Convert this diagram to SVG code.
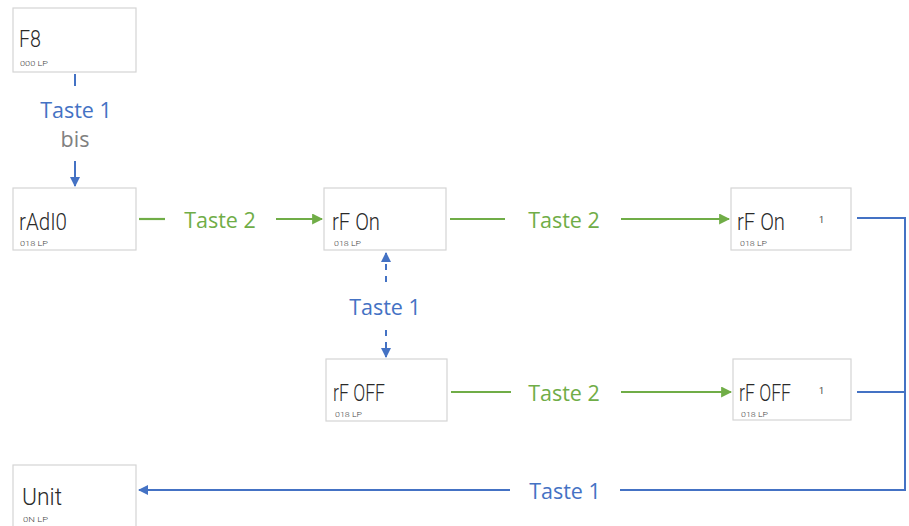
<svg xmlns="http://www.w3.org/2000/svg" width="909" height="526" viewBox="0 0 909 526">
<defs>
<style>
.box{fill:#fff;stroke:#d4d4d4;stroke-width:1.2}
.lcd{font-family:Roboto,"DejaVu Sans",sans-serif;font-weight:300;font-size:24px;fill:#2a2a2a}
.sm{font-family:Roboto,"DejaVu Sans",sans-serif;font-weight:300;font-size:8px;fill:#444}
.mk{font-family:Roboto,"DejaVu Sans",sans-serif;font-size:9px;fill:#444}
.lb{font-family:"Open Sans","Liberation Sans",sans-serif;font-size:21.5px}
.blue{fill:#4472c4}
.green{fill:#70ad47}
.gray{fill:#808080}
.lb-blue{stroke:#4472c4;stroke-width:2;fill:none}
.lg{stroke:#70ad47;stroke-width:2.2;fill:none}
.dash{stroke:#4472c4;stroke-width:2;fill:none;stroke-dasharray:6,6}
</style>
<marker id="ab" viewBox="0 0 10 10" refX="9" refY="5" markerWidth="5" markerHeight="5" orient="auto-start-reverse" markerUnits="strokeWidth"><path d="M0,0L10,5L0,10z" fill="#4472c4"/></marker>
<marker id="ag" viewBox="0 0 10 10" refX="9" refY="5" markerWidth="5" markerHeight="5" orient="auto" markerUnits="strokeWidth"><path d="M0,0L10,5L0,10z" fill="#70ad47"/></marker>
</defs>

<g id="node-f8">
<rect class="box" x="13" y="8" width="123" height="64"/>
<text class="lcd" x="19" y="47" textLength="22" lengthAdjust="spacingAndGlyphs">F8</text>
<text class="sm" x="20" y="66" textLength="28" lengthAdjust="spacingAndGlyphs">000 LP</text>
</g>
<g id="node-radio">
<rect class="box" x="13" y="188" width="123" height="62"/>
<text class="lcd" x="19" y="230" textLength="48" lengthAdjust="spacingAndGlyphs">rAdI0</text>
<text class="sm" x="20" y="246" textLength="28" lengthAdjust="spacingAndGlyphs">018 LP</text>
</g>
<g id="node-rfon">
<rect class="box" x="324" y="188" width="122" height="62"/>
<text class="lcd" x="332" y="230" textLength="48" lengthAdjust="spacingAndGlyphs">rF On</text>
<text class="sm" x="334" y="246" textLength="27" lengthAdjust="spacingAndGlyphs">018 LP</text>
</g>
<g id="node-rfon1">
<rect class="box" x="731" y="188" width="120" height="62"/>
<text class="lcd" x="737" y="230" textLength="48" lengthAdjust="spacingAndGlyphs">rF On</text>
<text class="mk" x="819" y="223">1</text>
<text class="sm" x="740" y="246" textLength="27" lengthAdjust="spacingAndGlyphs">018 LP</text>
</g>
<g id="node-rfoff">
<rect class="box" x="326" y="359" width="121" height="62"/>
<text class="lcd" x="333" y="401" textLength="52" lengthAdjust="spacingAndGlyphs">rF OFF</text>
<text class="sm" x="335" y="417" textLength="27" lengthAdjust="spacingAndGlyphs">018 LP</text>
</g>
<g id="node-rfoff1">
<rect class="box" x="733" y="359" width="118" height="61"/>
<text class="lcd" x="739" y="401" textLength="52" lengthAdjust="spacingAndGlyphs">rF OFF</text>
<text class="mk" x="819" y="394">1</text>
<text class="sm" x="741" y="417" textLength="27" lengthAdjust="spacingAndGlyphs">018 LP</text>
</g>
<g id="node-unit">
<rect class="box" x="13" y="465" width="123" height="64"/>
<text class="lcd" x="22" y="505" textLength="40" lengthAdjust="spacingAndGlyphs">Unit</text>
<text class="sm" x="23" y="522" textLength="25" lengthAdjust="spacingAndGlyphs">0N LP</text>
</g>

<g id="connectors">
<line class="lb-blue" x1="75" y1="74" x2="75" y2="86"/>
<text class="lb blue" x="76" y="118" text-anchor="middle">Taste 1</text>
<text class="lb gray" x="75" y="147" text-anchor="middle">bis</text>
<line class="lb-blue" x1="75" y1="161" x2="75" y2="186" marker-end="url(#ab)"/>

<line class="lg" x1="139" y1="219" x2="165" y2="219"/>
<text class="lb green" x="220" y="228" text-anchor="middle">Taste 2</text>
<line class="lg" x1="276" y1="219" x2="322" y2="219" marker-end="url(#ag)"/>

<line class="lg" x1="450" y1="219" x2="505" y2="219"/>
<text class="lb green" x="564" y="228" text-anchor="middle">Taste 2</text>
<line class="lg" x1="621" y1="219" x2="729" y2="219" marker-end="url(#ag)"/>

<line class="lg" x1="451" y1="392" x2="511" y2="392"/>
<text class="lb green" x="564" y="401" text-anchor="middle">Taste 2</text>
<line class="lg" x1="621" y1="392" x2="731" y2="392" marker-end="url(#ag)"/>

<line class="dash" x1="386" y1="282" x2="386" y2="253" marker-end="url(#ab)"/>
<text class="lb blue" x="385" y="315" text-anchor="middle">Taste 1</text>
<line class="dash" x1="386" y1="330" x2="386" y2="357" marker-end="url(#ab)"/>

<polyline class="lb-blue" points="857,218 905,218 905,490 620,490"/>
<line class="lb-blue" x1="857" y1="392" x2="905" y2="392"/>
<text class="lb blue" x="565" y="499" text-anchor="middle">Taste 1</text>
<line class="lb-blue" x1="510" y1="490" x2="139" y2="490" marker-end="url(#ab)"/>
</g>
</svg>
